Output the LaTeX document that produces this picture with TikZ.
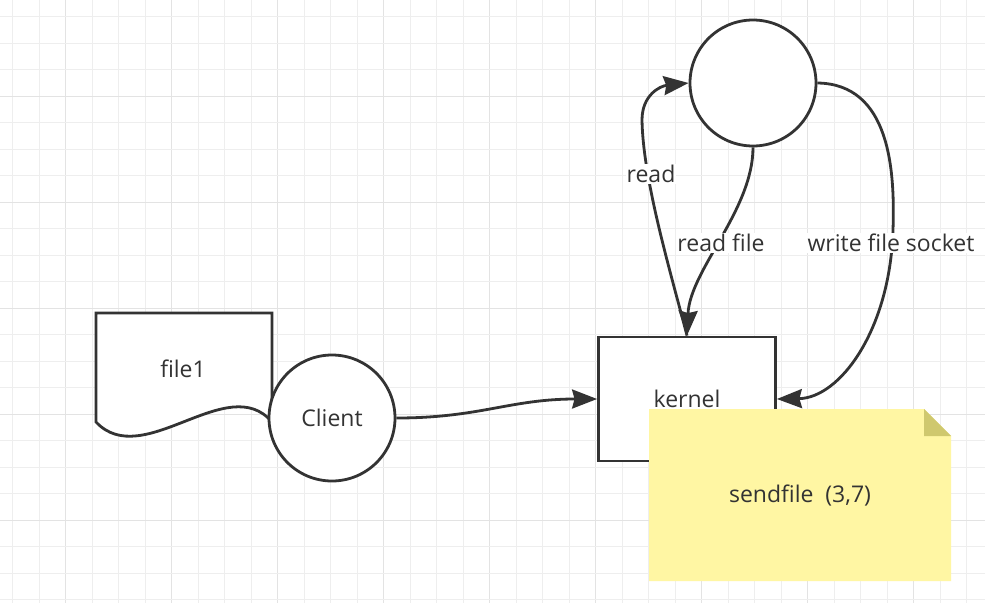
\documentclass[tikz,border=0pt]{standalone}
\usepackage{fontspec}
\setmainfont{Open Sans}
\usetikzlibrary{arrows.meta}
\definecolor{ink}{HTML}{333333}
\definecolor{gridminor}{HTML}{EEEEEE}
\definecolor{gridmajor}{HTML}{E3E3E3}
\definecolor{notefill}{HTML}{FFF6A3}
\definecolor{notefold}{HTML}{CFC86E}
\tikzset{
  shapeline/.style={draw=ink, line width=2.8pt, fill=white},
  conn/.style={draw=ink, line width=2.8pt, -{Stealth[length=25pt,width=19pt,inset=2.5pt]}},
  lbl/.style={fill=white, inner sep=1pt, text=ink, font=\fontsize{23}{27}\selectfont},
  txt/.style={text=ink, font=\fontsize{23}{27}\selectfont},
}
\begin{document}
\begin{tikzpicture}[x=1pt,y=-1pt]
\useasboundingbox (0,0) rectangle (985,603);
\fill[white] (0,0) rectangle (985,603);
% grid
\foreach \i in {0,...,36}{
  \pgfmathsetmacro{\gx}{12.7+26.5*\i}
  \pgfmathtruncatemacro{\m}{mod(\i,4)}
  \ifnum\m=2
    \draw[gridmajor, line width=1.3pt] (\gx,0) -- (\gx,603);
  \else
    \draw[gridminor, line width=1.2pt] (\gx,0) -- (\gx,603);
  \fi
}
\foreach \i in {0,...,22}{
  \pgfmathsetmacro{\gy}{16.7+26.5*\i}
  \pgfmathtruncatemacro{\m}{mod(\i,4)}
  \ifnum\m=3
    \draw[gridmajor, line width=1.3pt] (0,\gy) -- (985,\gy);
  \else
    \draw[gridminor, line width=1.2pt] (0,\gy) -- (985,\gy);
  \fi
}
% document shape file1
\draw[shapeline, line join=miter] (96,313) -- (272,313) -- (272,422)
  .. controls (228,370) and (143,472) .. (96,422) -- cycle;
\node[txt] (file1) at (183,369) {file1};
% client
\node[shapeline, circle, minimum size=126pt, inner sep=0pt, txt] (client) at (332,418) {Client};
% kernel
\node[shapeline, rectangle, minimum width=177pt, minimum height=124pt, inner sep=0pt] (kernel) at (687,399) {};
\node[txt] (kerneltext) at (687,399) {kernel};
% top circle
\node[shapeline, circle, minimum size=126pt, inner sep=0pt] (proc) at (753,83) {};
% connectors
\draw[conn] (client.east) .. controls (480,418) and (510,399) .. (kernel.west);
\draw[conn] (kernel.north) .. controls (670,270) and (643,180) .. (642,120)
  .. controls (642,95) and (660,86) .. (proc.west);
\draw[conn] (proc.south) .. controls (753,210) and (690,270) .. (kernel.north);
\draw[conn] (proc.east) .. controls (890,84) and (895,170) .. (893,230)
  .. controls (890,330) and (840,398) .. (kernel.east);
\node[lbl] (lread) at (651,174) {read};
\node[lbl] (lreadfile) at (721,243) {read file};
\node[lbl] (lwrite) at (891,243) {write file socket};
% note
\fill[notefill] (649,409) -- (924,409) -- (951,436) -- (951,581) -- (649,581) -- cycle;
\fill[notefold] (924,409) -- (951,436) -- (924,436) -- cycle;
\node[txt] (note) at (800,496) {sendfile\ \ (3,7)};
\end{tikzpicture}
\end{document}
